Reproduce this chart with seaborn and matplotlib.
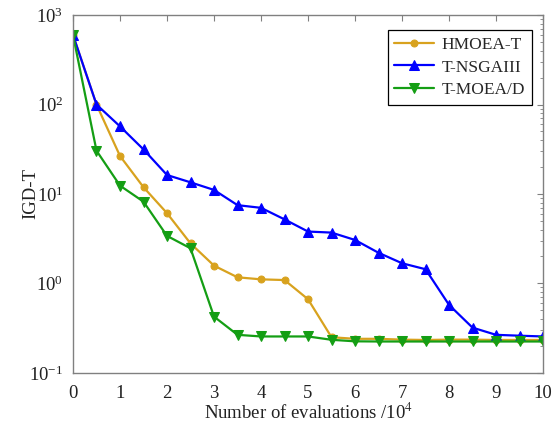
import numpy as np
import pandas as pd
import matplotlib
matplotlib.use("Agg")
import matplotlib.pyplot as plt
import seaborn as sns
from matplotlib.ticker import LogLocator, FixedLocator

evals = [0, 0.5, 1, 1.5, 2, 2.5, 3, 3.5, 4, 4.5, 5, 5.5, 6, 6.5, 7, 7.5, 8, 8.5, 9, 9.5, 10]
hmoea_t = [600, 100, 26.6, 11.9, 6.1, 2.8, 1.58, 1.17, 1.11, 1.09, 0.665, 0.25,
           0.24, 0.24, 0.235, 0.233, 0.235, 0.235, 0.233, 0.233, 0.233]
t_nsgaiii = [600, 100, 57, 31.5, 16.3, 13.5, 11.1, 7.5, 7.0, 5.2, 3.8, 3.7,
             3.06, 2.2, 1.68, 1.44, 0.575, 0.32, 0.266, 0.26, 0.255]
t_moead = [600, 30.5, 12.4, 8.2, 3.4, 2.47, 0.425, 0.266, 0.255, 0.255, 0.255, 0.234,
           0.225, 0.224, 0.224, 0.224, 0.224, 0.224, 0.224, 0.224, 0.224]
series_names = ["HMOEA-T", "T-NSGAIII", "T-MOEA/D"]
x_ticks = [0, 1, 2, 3, 4, 5, 6, 7, 8, 9, 10]

sns.set_style("white")
plt.rcParams["font.family"] = ["Liberation Serif", "DejaVu Serif"]
plt.rcParams["mathtext.fontset"] = "stix"
plt.rcParams["axes.unicode_minus"] = False

df = pd.concat([
    pd.DataFrame({"x": evals, "y": vals, "alg": name})
    for name, vals in zip(series_names, [hmoea_t, t_nsgaiii, t_moead])
])

colors = {"HMOEA-T": "#D8A21E", "T-NSGAIII": "#0000FF", "T-MOEA/D": "#149E14"}
markers = {"HMOEA-T": "o", "T-NSGAIII": "^", "T-MOEA/D": "v"}
msizes = {"HMOEA-T": 5, "T-NSGAIII": 7.5, "T-MOEA/D": 7.5}

fig = plt.figure(figsize=(5.53, 4.33), dpi=100)
ax = fig.add_axes([0.132, 0.139, 0.850, 0.826])

for name in series_names:
    sub = df[df["alg"] == name]
    sns.lineplot(data=sub, x="x", y="y", ax=ax, color=colors[name], marker=markers[name],
                 markersize=msizes[name], markeredgecolor=colors[name], linewidth=1.6,
                 label=name, estimator=None)

ax.set_yscale("log")
ax.set_ylim(0.1, 1000)
ax.set_xlim(0, 10)
ax.xaxis.set_major_locator(FixedLocator(x_ticks))
ax.yaxis.set_major_locator(LogLocator(base=10, numticks=10))
ax.yaxis.set_minor_locator(LogLocator(base=10, subs=np.arange(2, 10), numticks=20))

for sp in ax.spines.values():
    sp.set_color("#808080")
    sp.set_linewidth(1.0)
ax.tick_params(which="both", direction="in", top=True, right=True, colors="#808080",
               labelcolor="#222222", labelsize=13.5)
ax.tick_params(which="major", length=4.5)
ax.tick_params(which="minor", length=2)
ax.tick_params(axis="x", which="major", pad=9)
ax.tick_params(axis="y", which="major", pad=7)

ax.set_xlabel("Number of evaluations /10$^4$", fontsize=13.5, color="#222222")
ax.set_ylabel("IGD-T", fontsize=13.5, color="#222222")
ax.yaxis.set_label_coords(-0.072, 0.5)
ax.xaxis.set_label_coords(0.5, -0.083)

leg = ax.legend(loc="upper right", fontsize=12.5, frameon=True, fancybox=False,
                edgecolor="black", framealpha=1, borderpad=0.4, handlelength=2.3,
                labelspacing=0.35, handletextpad=0.4, borderaxespad=0,
                bbox_to_anchor=(0.976, 0.958))
leg.get_frame().set_linewidth(0.9)

fig.savefig("out.png", dpi=100)
